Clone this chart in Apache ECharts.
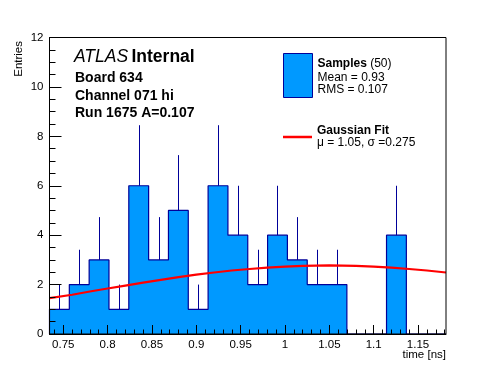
<!DOCTYPE html>
<html>
<head>
<meta charset="utf-8">
<script src="https://cdn.jsdelivr.net/npm/echarts@6/dist/echarts.min.js"></script>
<style>
html,body{margin:0;padding:0;background:#fff;}
#c{width:496px;height:372px;}
</style>
</head>
<body>
<div id="c"></div>
<script>
// ---- data ----
const binCounts = [1, 2, 3, 1, 6, 3, 5, 1, 6, 4, 2, 4, 3, 2, 2, 0, 0, 4, 0, 0];
const binErrors = [1, 1.41, 1.73, 1, 2.45, 1.73, 2.24, 1, 2.45, 2, 1.41, 2, 1.73, 1.41, 1.41, 0, 0, 2, 0, 0];
const binLow = 0.7345;
const binWidth = 0.02235;
const fitX = [0.7345, 0.76, 0.78, 0.80, 0.82, 0.84, 0.86, 0.88, 0.90, 0.92, 0.94, 0.96, 0.98, 1.00, 1.02, 1.05, 1.08, 1.10, 1.12, 1.14, 1.16, 1.1815];
const fitY = [1.45, 1.59, 1.72, 1.84, 1.96, 2.08, 2.19, 2.30, 2.40, 2.49, 2.57, 2.63, 2.69, 2.73, 2.76, 2.78, 2.76, 2.73, 2.69, 2.63, 2.57, 2.49];
const xMajorTicks = [0.75, 0.8, 0.85, 0.9, 0.95, 1, 1.05, 1.1, 1.15];
const xMinorTicks = [0.74, 0.76, 0.77, 0.78, 0.79, 0.81, 0.82, 0.83, 0.84, 0.86, 0.87, 0.88, 0.89, 0.91, 0.92, 0.93, 0.94, 0.96, 0.97, 0.98, 0.99, 1.01, 1.02, 1.03, 1.04, 1.06, 1.07, 1.08, 1.09, 1.11, 1.12, 1.13, 1.14, 1.16, 1.17, 1.18];
const yMin = 0, yMax = 12, yStep = 2;
const histName = 'Samples';
const fitName = 'Gaussian Fit';
const nEntries = 50, meanVal = '0.93', rmsVal = '0.107';
const fitMu = '1.05', fitSigma = '0.275';

// ---- derived structures ----
const nBins = binCounts.length;
const edges = binCounts.map((_, i) => binLow + i * binWidth).concat([binLow + nBins * binWidth]);
const xMin = edges[0], xMax = edges[nBins];
const outline = [[edges[0], 0]].concat(binCounts.map((v, i) => [edges[i], v])).concat([[edges[nBins], 0]]);
const errData = binCounts.map((v, i) => [edges[i] + binWidth / 2, v, v + binErrors[i]]).filter(d => d[2] > d[1]);
const fitData = fitX.map((x, i) => [x, fitY[i]]);

const FONT = '"Liberation Sans", Arial, Helvetica, sans-serif';
const chart = echarts.init(document.getElementById('c'), null, {renderer: 'canvas'});

chart.setOption({
  animation: false,
  backgroundColor: '#fff',
  textStyle: {fontFamily: FONT, color: '#000'},
  grid: {left: 49.5, right: 50, top: 37.5, bottom: 38, show: true, borderColor: '#000', borderWidth: 1, backgroundColor: 'transparent', z: 10},
  xAxis: [{
    type: 'value', min: xMin, max: xMax, position: 'bottom', z: 10,
    axisLine: {show: true, onZero: false, lineStyle: {color: '#000', width: 1}},
    axisTick: {show: true, inside: true, length: 9, customValues: xMajorTicks, lineStyle: {color: '#000', width: 1}},
    axisLabel: {show: true, customValues: xMajorTicks, fontSize: 11.5, color: '#000', fontFamily: FONT, margin: 5},
    splitLine: {show: false}
  }, {
    type: 'value', min: xMin, max: xMax, position: 'bottom', z: 10,
    axisLine: {show: false},
    axisTick: {show: true, inside: true, length: 4.5, customValues: xMinorTicks, lineStyle: {color: '#000', width: 1}},
    axisLabel: {show: false},
    splitLine: {show: false}
  }],
  yAxis: {
    type: 'value', min: yMin, max: yMax, interval: yStep, z: 10,
    axisLine: {show: true, lineStyle: {color: '#000', width: 1}},
    axisTick: {show: true, inside: true, length: 12, lineStyle: {color: '#000', width: 1}},
    minorTick: {show: true, splitNumber: 4, length: 6, lineStyle: {color: '#000', width: 1}},
    axisLabel: {fontSize: 11.5, color: '#000', fontFamily: FONT, margin: 6},
    splitLine: {show: false}
  },
  legend: [{
    data: [{name: histName, icon: 'rect', itemStyle: {color: '#0099ff', borderColor: '#000099', borderWidth: 1}}],
    left: 283, top: 53, padding: 0, itemWidth: 29, itemHeight: 44, orient: 'vertical', selectedMode: false,
    textStyle: {
      fontFamily: FONT, fontSize: 12, color: '#000',
      rich: {
        b: {fontFamily: FONT, fontSize: 12, fontWeight: 'bold', lineHeight: 16, color: '#000'},
        n0: {fontFamily: FONT, fontSize: 12, lineHeight: 16, color: '#000'},
        n: {fontFamily: FONT, fontSize: 12, lineHeight: 12, color: '#000'}
      }
    },
    formatter: () => '{b|' + histName + '} {n0|(' + nEntries + ')}\n{n|Mean = ' + meanVal + '}\n{n|RMS = ' + rmsVal + '}'
  }, {
    data: [{name: fitName, icon: 'rect', itemStyle: {color: '#ff0000', borderWidth: 0}}],
    left: 283, top: 125, padding: 0, itemWidth: 29, itemHeight: 2.5, orient: 'vertical', selectedMode: false,
    textStyle: {
      fontFamily: FONT, fontSize: 12, color: '#000',
      rich: {
        b: {fontFamily: FONT, fontSize: 12, fontWeight: 'bold', lineHeight: 12, color: '#000'},
        n: {fontFamily: FONT, fontSize: 12, lineHeight: 12, color: '#000'}
      }
    },
    formatter: () => '{b|' + fitName + '}\n{n|\u03bc = ' + fitMu + ', \u03c3 =' + fitSigma + '}'
  }],
  series: [{
    name: histName, type: 'line', step: 'end', data: outline,
    symbol: 'none', showSymbol: false,
    lineStyle: {color: '#000099', width: 1.2},
    itemStyle: {color: '#0099ff'},
    areaStyle: {color: '#0099ff', opacity: 1},
    z: 2
  }, {
    name: 'errors', type: 'custom', data: errData, z: 3,
    renderItem: (params, api) => {
      const p1 = api.coord([api.value(0), api.value(1)]);
      const p2 = api.coord([api.value(0), api.value(2)]);
      const x = Math.round(p1[0]) + 0.5;
      return {type: 'line', shape: {x1: x, y1: p1[1], x2: x, y2: p2[1]}, style: {stroke: '#000099', lineWidth: 1}};
    }
  }, {
    name: fitName, type: 'line', data: fitData, smooth: false,
    symbol: 'none', showSymbol: false,
    lineStyle: {color: '#ff0000', width: 2.2},
    itemStyle: {color: '#ff0000'},
    z: 4
  }],
  graphic: [{
    type: 'text', left: 74, top: 48,
    style: {
      text: '{i|ATLAS} {b|Internal}',
      rich: {
        i: {fontFamily: FONT, fontSize: 17.5, fontStyle: 'italic', fill: '#000'},
        b: {fontFamily: FONT, fontSize: 17.5, fontWeight: 'bold', fill: '#000'}
      }
    }
  }, {
    type: 'text', left: 75, top: 71,
    style: {text: 'Board 634', font: 'bold 14px ' + FONT, fill: '#000'}
  }, {
    type: 'text', left: 75, top: 89,
    style: {text: 'Channel 071 hi', font: 'bold 14px ' + FONT, fill: '#000'}
  }, {
    type: 'text', left: 75, top: 106,
    style: {text: 'Run 1675 A=0.107', font: 'bold 14px ' + FONT, fill: '#000'}
  }, {
    type: 'text', right: 50, top: 349,
    style: {text: 'time [ns]', font: '11.5px ' + FONT, fill: '#000'}
  }, {
    type: 'text', x: 19, y: 41, rotation: Math.PI / 2,
    style: {text: 'Entries', font: '11.5px ' + FONT, fill: '#000', align: 'right', verticalAlign: 'middle'}
  }]
});
</script>
</body>
</html>
